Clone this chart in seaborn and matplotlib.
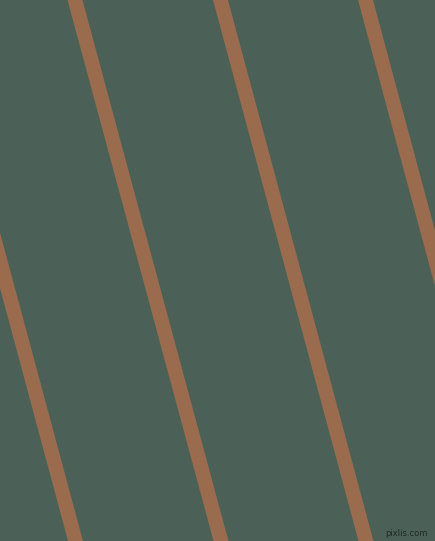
import matplotlib
matplotlib.use("Agg")
import matplotlib.pyplot as plt
import seaborn as sns
import pandas as pd
import numpy as np

# stripe centre x where each stripe crosses the top (y=0) and bottom (y=541) edges
stripe_ids = ["s1", "s2", "s3", "s4"]
top_x = [-70, 75, 220.5, 365.5]
bottom_x = [75.5, 221, 366, 511]
edge_y = [0, 541]

bg_color = "#4b6157"
stripe_color = "#9a6b4d"

rows = []
for sid, tx, bx in zip(stripe_ids, top_x, bottom_x):
    rows.append({"stripe": sid, "x": tx, "y": edge_y[0]})
    rows.append({"stripe": sid, "x": bx, "y": edge_y[1]})
df = pd.DataFrame(rows)

W, H, PAD = 435, 541, 60

sns.set_theme(style="white")
# draw on a bigger canvas and crop afterwards: Agg clips line paths at the
# canvas edge, which would cut the stripe ends square
fig = plt.figure(figsize=((W + 2 * PAD) / 100, (H + 2 * PAD) / 100), dpi=100)
ax = fig.add_axes([PAD / (W + 2 * PAD), PAD / (H + 2 * PAD),
                   W / (W + 2 * PAD), H / (H + 2 * PAD)])
ax.set_facecolor(bg_color)
fig.patch.set_facecolor(bg_color)

sns.lineplot(data=df, x="x", y="y", units="stripe", estimator=None, sort=False,
             color=stripe_color, linewidth=10.4, ax=ax, legend=False,
             solid_capstyle="projecting")
for ln in ax.lines:
    ln.set_clip_on(False)

ax.set_xlim(0, W)
ax.set_ylim(H, 0)
ax.axis("off")

ax.text(428, 538, "pixlis.com", fontsize=6, color="#1e2a24",
        ha="right", va="bottom")

fig.canvas.draw()
buf = np.asarray(fig.canvas.buffer_rgba())
crop = buf[PAD:PAD + H, PAD:PAD + W, :3]
plt.imsave("out.png", crop)
